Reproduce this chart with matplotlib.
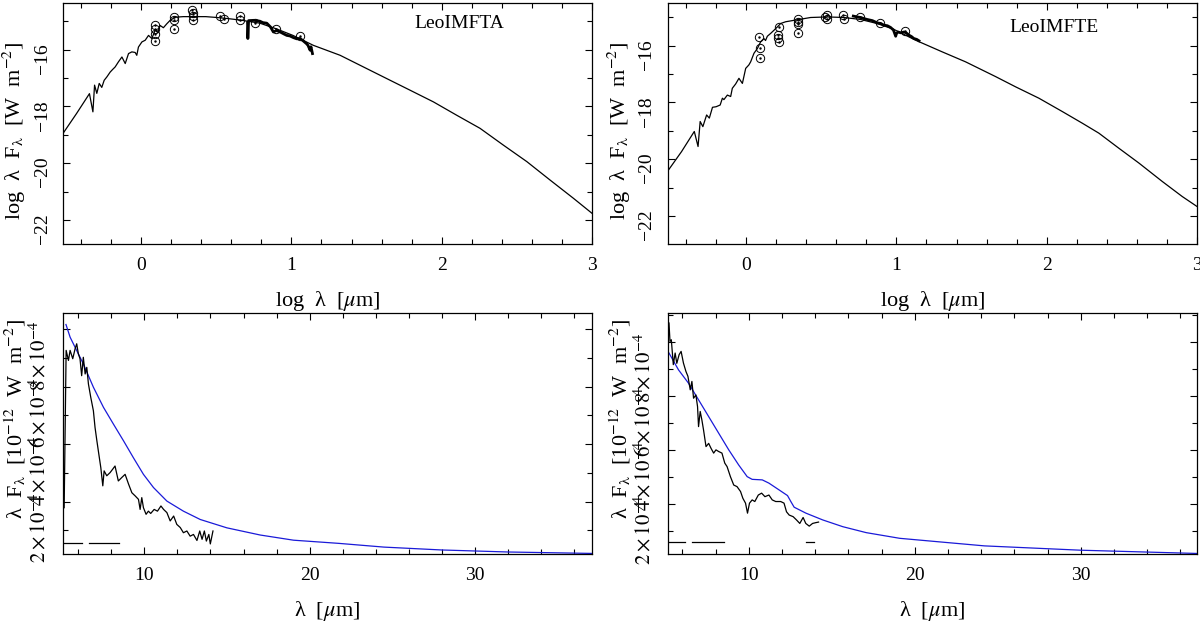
import numpy as np
import matplotlib
matplotlib.use("Agg")
import matplotlib.pyplot as plt
from matplotlib.ticker import MultipleLocator

plt.rcParams["font.family"] = "serif"
plt.rcParams["font.serif"] = ["Liberation Serif", "DejaVu Serif"]
plt.rcParams["mathtext.fontset"] = "stix"
plt.rcParams["font.size"] = 14

# ---- top left: LeoIMFTA, log-log SED ----
tl_model_x = [-0.52, -0.43, -0.344, -0.321, -0.31, -0.295, -0.279, -0.262, -0.246, -0.228,
              -0.206, -0.19, -0.173, -0.151, -0.128, -0.106, -0.084, -0.062, -0.04, -0.029,
              -0.018, 0.005, 0.027, 0.049, 0.071, 0.093, 0.11, 0.126, 0.148, 0.171,
              0.193, 0.226, 0.28, 0.348, 0.43, 0.504, 0.58, 0.659, 0.79, 0.9,
              1.01, 1.146, 1.324, 1.479, 1.657, 1.79, 1.945, 2.1, 2.255, 2.41,
              2.566, 2.721, 2.876, 3.0]
tl_model_y = [-18.95, -18.25, -17.55, -18.19, -17.25, -17.54, -17.19, -17.33, -17.08, -16.96,
              -16.79, -16.7, -16.61, -16.43, -16.26, -16.49, -16.14, -16.08, -16.1, -16.2,
              -15.91, -15.73, -15.67, -15.5, -15.61, -15.32, -15.4, -15.15, -15.23, -15.09,
              -14.97, -14.86, -14.84, -14.84, -14.84, -14.87, -14.91, -14.96, -15.07, -15.27,
              -15.5, -15.85, -16.2, -16.61, -17.08, -17.43, -17.84, -18.31, -18.77, -19.36,
              -19.94, -20.59, -21.23, -21.76]
tl_irs_x = [0.708, 0.71, 0.715, 0.75, 0.79, 0.81, 0.836, 0.86, 0.88, 0.9, 0.925, 0.95,
            0.969, 0.99, 1.014, 1.035, 1.058, 1.08, 1.1, 1.11, 1.124, 1.13, 1.14]
tl_irs_y = [-15.05, -15.61, -14.98, -14.97, -15.0, -15.05, -15.07, -15.2, -15.38, -15.33,
            -15.38, -15.45, -15.5, -15.52, -15.58, -15.62, -15.61, -15.7, -15.79, -15.85,
            -16.02, -15.9, -16.14]
tl_phot_x = [0.09, 0.09, 0.09, 0.09, 0.22, 0.22, 0.22, 0.337, 0.345, 0.345, 0.345,
             0.526, 0.548, 0.657, 0.655, 0.759, 0.896, 1.058]
tl_phot_y = [-15.15, -15.26, -15.44, -15.69, -14.86, -14.97, -15.26, -14.6, -14.7, -14.8,
             -14.96, -14.82, -14.91, -14.83, -14.95, -15.07, -15.28, -15.53]

# ---- top right: LeoIMFTE ----
tr_model_x = [-0.52, -0.43, -0.345, -0.32, -0.306, -0.288, -0.263, -0.245, -0.224, -0.2,
              -0.173, -0.158, -0.148, -0.125, -0.103, -0.092, -0.07, -0.048, -0.025, -0.003,
              0.018, 0.03, 0.052, 0.075, 0.096, 0.118, 0.129, 0.141, 0.163, 0.185,
              0.208, 0.23, 0.263, 0.318, 0.429, 0.54, 0.651, 0.762, 0.87, 0.98,
              1.128, 1.305, 1.46, 1.66, 1.793, 1.948, 2.104, 2.237, 2.347, 2.48,
              2.613, 2.769, 2.902, 3.0]
tr_model_y = [-20.4, -19.73, -19.02, -19.55, -18.67, -18.85, -18.44, -18.55, -18.17, -18.15,
              -18.09, -17.85, -17.9, -17.74, -17.79, -17.5, -17.35, -17.15, -17.33, -16.8,
              -16.68, -16.57, -16.27, -16.1, -15.87, -15.75, -15.82, -15.67, -15.57, -15.46,
              -15.34, -15.22, -15.16, -15.11, -15.01, -14.99, -15.01, -15.08, -15.22, -15.42,
              -15.81, -16.22, -16.57, -17.09, -17.45, -17.85, -18.32, -18.73, -19.08, -19.61,
              -20.13, -20.78, -21.31, -21.66]
tr_irs_x = [0.713, 0.74, 0.762, 0.785, 0.806, 0.84, 0.873, 0.895, 0.917, 0.94, 0.961, 0.98,
            0.995, 1.0, 1.01, 1.03, 1.05, 1.065, 1.083, 1.1, 1.116, 1.135, 1.15]
tr_irs_y = [-14.96, -14.99, -15.01, -15.05, -15.08, -15.12, -15.2, -15.22, -15.28, -15.3,
            -15.36, -15.45, -15.67, -15.58, -15.52, -15.55, -15.52, -15.55, -15.63, -15.68,
            -15.75, -15.78, -15.83]
tr_phot_x = [0.085, 0.09, 0.09, 0.218, 0.212, 0.212, 0.218, 0.345, 0.345, 0.345, 0.345,
             0.522, 0.54, 0.54, 0.647, 0.651, 0.755, 0.888, 1.057]
tr_phot_y = [-15.69, -16.08, -16.45, -15.36, -15.61, -15.72, -15.87, -15.05, -15.16, -15.25,
             -15.54, -15.01, -14.91, -15.06, -14.91, -15.06, -14.99, -15.19, -15.49]

# ---- bottom left: linear, in units of 1e-4 ----
bl_model_x = [5.25, 5.5, 5.8, 6.3, 6.91, 7.52, 8.12, 8.73, 9.33, 9.94, 10.55, 11.36,
              12.36, 13.38, 14.99, 17.01, 19.03, 21.76, 24.5, 28.0, 32.0, 37.1]
bl_model_y = [8.16, 7.72, 7.37, 6.79, 5.98, 5.28, 4.7, 4.12, 3.53, 2.95, 2.49, 2.02,
              1.67, 1.38, 1.09, 0.84, 0.66, 0.55, 0.42, 0.32, 0.25, 0.2]
bl_spec_x = [5.14, 5.26, 5.4, 5.5, 5.66, 5.8, 5.9, 6.0, 6.1, 6.2, 6.3, 6.41, 6.51, 6.61,
             6.75, 6.91, 7.01, 7.12, 7.27, 7.36, 7.48, 7.56, 7.72, 7.92, 8.08, 8.22, 8.42,
             8.63, 8.83, 9.04, 9.24, 9.44, 9.64, 9.74, 9.84, 9.94, 10.1, 10.24, 10.38,
             10.59, 10.79, 11.0, 11.16, 11.36, 11.56, 11.77, 11.96, 12.17, 12.36, 12.57,
             12.77, 12.97, 13.18, 13.35, 13.49, 13.63, 13.75, 13.9, 13.99, 14.15]
bl_spec_y = [1.79, 7.26, 6.91, 7.26, 6.97, 7.31, 7.49, 7.14, 6.97, 6.38, 7.02, 6.44, 6.67,
             6.09, 5.63, 5.16, 4.58, 4.12, 3.53, 3.18, 2.55, 3.07, 2.9, 3.01, 3.13, 3.24,
             2.72, 2.84, 2.95, 2.61, 2.31, 2.2, 2.08, 1.73, 2.14, 1.79, 1.56, 1.67, 1.59,
             1.73, 1.67, 1.85, 1.73, 1.62, 1.33, 1.5, 1.21, 1.1, 0.92, 0.98,
             0.8, 0.86, 0.65, 0.98, 0.69, 0.98, 0.63, 0.86, 0.53, 0.98]
bl_seg_level = 0.57
bl_seg_ranges = [(5.14, 6.2), (6.67, 8.48)]

# ---- bottom right ----
br_model_x = [5.19, 5.76, 6.36, 6.97, 7.58, 8.18, 8.79, 9.39, 9.9, 10.2, 10.81, 11.21,
              11.82, 12.33, 12.53, 12.73, 13.44, 14.45, 15.66, 17.07, 19.09, 21.82,
              24.2, 30.0, 37.0]
br_model_y = [7.58, 6.96, 6.47, 5.85, 5.23, 4.62, 4.0, 3.44, 3.01, 2.91, 2.89, 2.77,
              2.52, 2.31, 2.09, 1.88, 1.66, 1.41, 1.16, 0.94, 0.73, 0.58,
              0.45, 0.29, 0.17]
br_spec_x = [5.19, 5.25, 5.33, 5.45, 5.56, 5.66, 5.8, 5.92, 6.06, 6.21, 6.33, 6.47, 6.57,
             6.67, 6.81, 6.91, 6.97, 7.07, 7.17, 7.27, 7.42, 7.58, 7.72, 7.88, 8.02, 8.18,
             8.38, 8.55, 8.69, 8.89, 9.09, 9.29, 9.5, 9.64, 9.8, 9.92, 10.04, 10.2, 10.36,
             10.57, 10.77, 10.97, 11.21, 11.41, 11.62, 11.92, 12.12, 12.27, 12.43, 12.67,
             12.87, 13.07, 13.27, 13.43, 13.64, 13.84, 14.04, 14.2]
br_spec_y = [8.69, 8.01, 8.07, 7.15, 7.58, 7.2, 7.52, 7.64, 7.21, 6.9, 6.72, 6.22, 6.53,
             5.91, 6.03, 5.6, 4.86, 5.42, 5.11, 4.74, 4.12, 4.24, 4.06, 3.88, 4.0, 3.94,
             3.88, 3.51, 3.38, 3.01, 2.7, 2.64, 2.46, 2.21, 2.03, 1.66, 2.03, 2.15, 2.09,
             2.33, 2.4, 2.27, 2.33, 2.15, 2.09, 2.09, 2.03, 1.71, 1.59, 1.53,
             1.41, 1.28, 1.5, 1.28, 1.18, 1.28, 1.31, 1.33]
br_seg_level = 0.58
br_seg_ranges = [(5.13, 6.16), (6.57, 8.49), (13.47, 13.9)]

names = ["LeoIMFTA", "LeoIMFTE"]
lin_ticks = [2, 4, 6, 8]
lin_labels = [r"$2\times10^{-4}$", r"$4\times10^{-4}$", r"$6\times10^{-4}$", r"$8\times10^{-4}$"]

fig = plt.figure(figsize=(12, 6.23), dpi=100)
lefts = [63 / 1200, 668 / 1200]
w = 529 / 1200
top_ax = [fig.add_axes([l, 1 - 244 / 623, w, 241 / 623]) for l in lefts]
bot_ax = [fig.add_axes([l, 1 - 554 / 623, w, 241 / 623]) for l in lefts]


def style(ax):
    for s in ax.spines.values():
        s.set_linewidth(0.9)
    ax.tick_params(which="both", direction="in", top=True, right=True, width=0.8)
    ax.tick_params(which="major", length=5, pad=9)
    ax.tick_params(which="minor", length=3.5)
    ax.tick_params(axis="y", labelrotation=90)


# top panels
top_data = [
    (tl_model_x, tl_model_y, tl_irs_x, tl_irs_y, tl_phot_x, tl_phot_y, (-22.84, -14.36), (0.75, 0.917)),
    (tr_model_x, tr_model_y, tr_irs_x, tr_irs_y, tr_phot_x, tr_phot_y, (-22.98, -14.5), (0.73, 0.90)),
]
for ax, name, (mx, my, ix, iy, px, py, ylim, tpos) in zip(top_ax, names, top_data):
    ax.plot(mx, my, color="black", lw=0.9)
    ax.plot(ix, iy, color="black", lw=2.0)
    ax.plot(px, py, "o", ms=6, mfc="none", mec="black", mew=0.7)
    ax.plot(px, py, ".", ms=1.5, color="black")
    ax.set_xlim(-0.52, 3.0)
    ax.set_ylim(*ylim)
    ax.xaxis.set_major_locator(MultipleLocator(1))
    ax.xaxis.set_minor_locator(MultipleLocator(0.2))
    ax.yaxis.set_major_locator(MultipleLocator(2))
    ax.yaxis.set_minor_locator(MultipleLocator(1))
    style(ax)
    ax.text(tpos[0], tpos[1], name, transform=ax.transAxes, ha="center", va="center", fontsize=14)
    ax.set_xlabel(r"log  λ  [$\mu$m]", fontsize=16)
    ax.xaxis.label.set_va("center")
    ax.xaxis.set_label_coords(0.5, -0.236)
    ax.set_ylabel(r"log  λ  F$_\mathrm{\lambda}$  [W  m$^{-2}$]", fontsize=16)
    ax.yaxis.label.set_va("center")
    ax.yaxis.set_label_coords(-0.091, 0.47)

# bottom panels
bot_data = [
    (bl_model_x, bl_model_y, bl_spec_x, bl_spec_y, bl_seg_level, bl_seg_ranges, (5.07, 37.1), (0.18, 8.56)),
    (br_model_x, br_model_y, br_spec_x, br_spec_y, br_seg_level, br_seg_ranges, (5.13, 37.0), (0.15, 9.06)),
]
for ax, (mx, my, sx, sy, lev, segs, xlim, ylim) in zip(bot_ax, bot_data):
    ax.plot(mx, np.array(my) * 1e-4, color="#1a1ad8", lw=0.9)
    ax.plot(sx, np.array(sy) * 1e-4, color="black", lw=0.9)
    for a, b in segs:
        ax.plot([a, b], [lev * 1e-4, lev * 1e-4], color="black", lw=0.9)
    ax.set_xlim(*xlim)
    ax.set_ylim(ylim[0] * 1e-4, ylim[1] * 1e-4)
    ax.xaxis.set_major_locator(MultipleLocator(10))
    ax.xaxis.set_minor_locator(MultipleLocator(2))
    ax.set_yticks([t * 1e-4 for t in lin_ticks])
    ax.set_yticklabels(lin_labels, fontsize=15)
    ax.yaxis.set_minor_locator(MultipleLocator(1e-4))
    style(ax)
    ax.set_xlabel(r"λ  [$\mu$m]", fontsize=16)
    ax.xaxis.label.set_va("center")
    ax.xaxis.set_label_coords(0.5, -0.236)
    ax.set_ylabel(r"λ  F$_\mathrm{\lambda}$  [10$^{-12}$  W  m$^{-2}$]", fontsize=16)
    ax.yaxis.label.set_va("center")
    ax.yaxis.set_label_coords(-0.091, 0.56)

fig.savefig("out.png", dpi=100)
